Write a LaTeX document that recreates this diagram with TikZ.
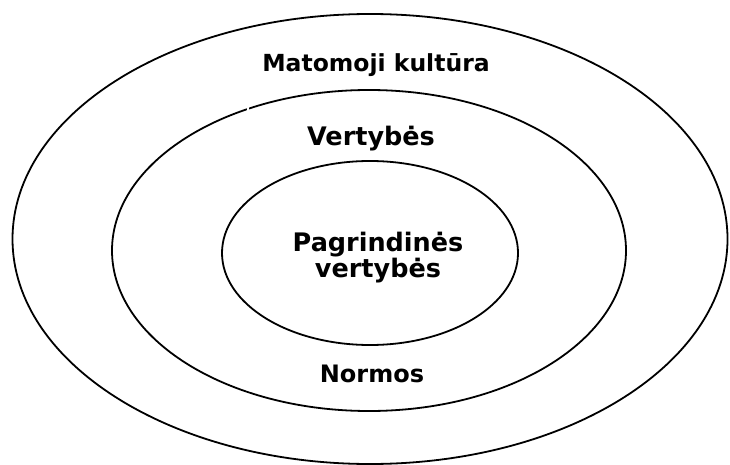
\documentclass[tikz,border=0pt]{standalone}
\usepackage{fontspec}
\setmainfont{DejaVu Sans}
\begin{document}
\begin{tikzpicture}[x=1pt,y=-1pt,
  ring/.style={draw=black,line width=1.8pt},
  lbl/.style={font=\bfseries,align=center,inner sep=0pt}]
\useasboundingbox (0,0) rectangle (730,465);
\fill[white] (0,0) rectangle (730,465);
\draw[ring] (370,239) ellipse [x radius=357.5, y radius=225];
\draw[ring] (369,250.5) ellipse [x radius=257, y radius=160.5];
\draw[ring] (370,253) ellipse [x radius=148, y radius=92];
\fill[white] (246.5,104) rectangle (248.5,111);
\node[lbl,anchor=base] (outer) at (376,72) {\fontsize{23.5}{26}\selectfont Matomoji kultūra};
\node[lbl,anchor=base] (middle) at (371,146) {\fontsize{25.5}{27}\selectfont Vertybės};
\node[lbl] (inner) at (378,258) {\fontsize{25.5}{26}\selectfont Pagrindinės\\\fontsize{25.5}{26}\selectfont vertybės};
\node[lbl,anchor=base] (norms) at (372,382) {\fontsize{24}{26}\selectfont Normos};
\end{tikzpicture}
\end{document}
